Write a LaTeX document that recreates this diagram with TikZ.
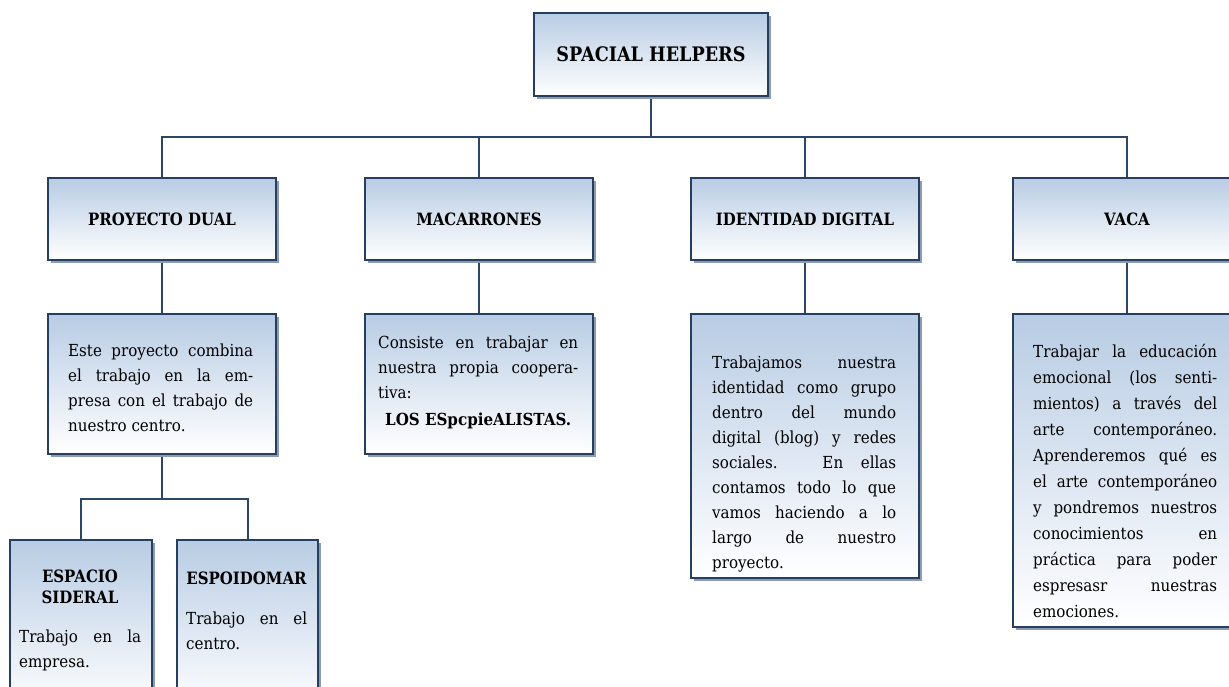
\documentclass[tikz,border=0pt]{standalone}
\usepackage{fontspec}
\setmainfont[FakeStretch=0.88]{DejaVu Serif}
\newfontfamily\bodyfont[FakeStretch=0.91]{DejaVu Serif}
\usetikzlibrary{shadows,backgrounds}
\definecolor{navy}{HTML}{243F60}
\definecolor{lblue}{HTML}{B8CCE4}
\definecolor{shad}{HTML}{8E9BAE}
\definecolor{conncol}{HTML}{2C4668}
\begin{document}
\begin{tikzpicture}[x=1pt,y=-1pt,
  box/.style={draw=navy, line width=2pt, top color=lblue, bottom color=white,
    inner sep=0pt, anchor=north west,
    drop shadow={shadow xshift=3pt, shadow yshift=-3pt, fill=shad, opacity=1}},
  hbox/.style={box, minimum width=228pt, minimum height=82pt,
    font=\bfseries\fontsize{17}{20}\selectfont},
  txt/.style={anchor=north west, inner sep=0pt, align=justify,
    font=\bodyfont\fontsize{16.6}{25}\selectfont},
  hd/.style={anchor=north, inner sep=0pt, align=center,
    font=\bfseries\fontsize{17}{20.5}\selectfont},
  conn/.style={draw=conncol, line width=2pt}
]
\useasboundingbox (0,0) rectangle (1229,687);

% top
\node[box, minimum width=234pt, minimum height=83pt,
  font=\bfseries\fontsize{20}{22}\selectfont] (top) at (533,12) {SPACIAL HELPERS};

% level 1 headings
\node[hbox] (pd) at (47,177) {PROYECTO DUAL};
\node[hbox] (md) at (364,177) {MACARRONES};
\node[hbox] (id) at (690,177) {IDENTIDAD DIGITAL};
\node[hbox] (va) at (1012,177) {VACA};

% level 2 text boxes
\node[box, minimum width=228pt, minimum height=140pt] (pdb) at (47,313) {};
\node[box, minimum width=228pt, minimum height=140pt] (mdb) at (364,313) {};
\node[box, minimum width=228pt, minimum height=264pt] (idb) at (690,313) {};
\node[box, minimum width=228pt, minimum height=313pt] (vab) at (1012,313) {};

\node[txt, text width=185pt] (pdx) at (68,344) {Este proyecto combina\linebreak el trabajo en la em-\linebreak presa con el trabajo de\linebreak nuestro centro.};

\node[txt, text width=200pt] (mdx) at (378,336) {Consiste en trabajar en\linebreak nuestra propia coopera-\linebreak tiva:\par\vspace{2pt}\hfil\textbf{LOS ESpcpieALISTAS.}};

\node[txt, text width=184pt] (idx) at (712,356) {Trabajamos nuestra\linebreak identidad como grupo\linebreak dentro del mundo\linebreak digital (blog) y redes\linebreak sociales. En ellas\linebreak contamos todo lo que\linebreak vamos haciendo a lo\linebreak largo de nuestro\linebreak proyecto.};

\node[txt, text width=184pt, font=\bodyfont\fontsize{16.6}{26}\selectfont] (vax) at (1033,344) {Trabajar la educación\linebreak emocional (los senti-\linebreak mientos) a través del\linebreak arte contemporáneo.\linebreak Aprenderemos qué es\linebreak el arte contemporáneo\linebreak y pondremos nuestros\linebreak conocimientos en\linebreak práctica para poder\linebreak espresasr nuestras\linebreak emociones.};

% level 3
\node[box, minimum width=142pt, minimum height=170pt] (esb) at (9,539) {};
\node[box, minimum width=141pt, minimum height=170pt] (eob) at (176,539) {};

\node[hd] (esh) at (80,570) {ESPACIO\\SIDERAL};
\node[txt, text width=122pt] (esx) at (19,630) {Trabajo en la\linebreak empresa.};
\node[hd] (eoh) at (246.5,572) {ESPOIDOMAR};
\node[txt, text width=121pt] (eox) at (186,612) {Trabajo en el\linebreak centro.};

% connectors
\coordinate (bus) at (651,137);
\coordinate (bus2) at (163,499);
\begin{pgfonlayer}{background}
\draw[conn] (top.south) -- (bus);
\draw[conn] (pd.north) |- (bus) -| (va.north);
\draw[conn] (md.north) -- (md.north |- bus);
\draw[conn] (id.north) -- (id.north |- bus);
\draw[conn] (pd.south) -- (pdb.north);
\draw[conn] (md.south) -- (mdb.north);
\draw[conn] (id.south) -- (idb.north);
\draw[conn] (va.south) -- (vab.north);
\draw[conn] (pdb.south) -- (pdb.south |- bus2);
\draw[conn] (esb.north) |- (bus2) -| (eob.north);
\end{pgfonlayer}
\end{tikzpicture}
\end{document}
